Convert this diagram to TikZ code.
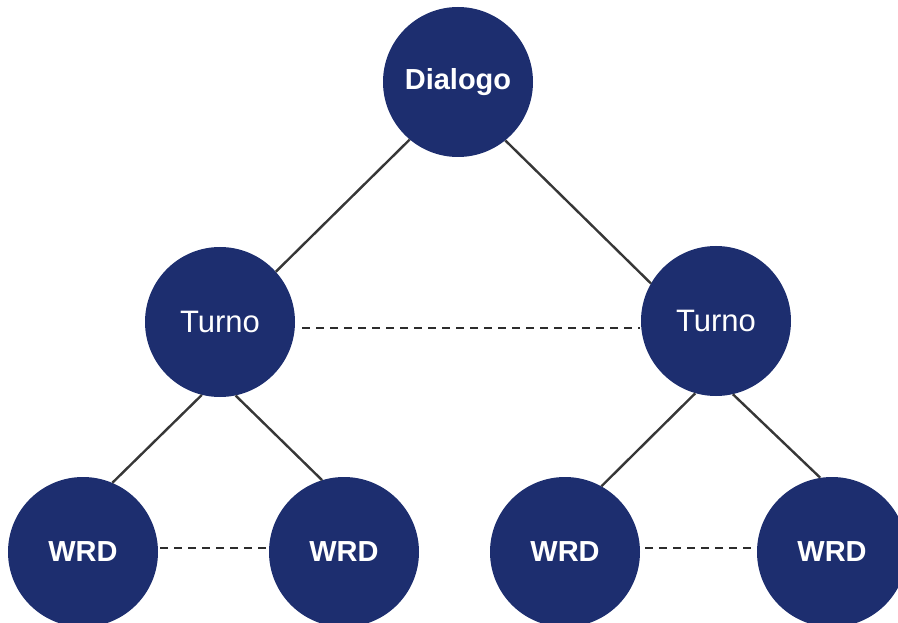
\documentclass[tikz,border=0pt]{standalone}
\usepackage{fontspec}
\setmainfont{Liberation Sans}
\definecolor{navy}{RGB}{29,46,111}
\definecolor{edgegray}{RGB}{55,55,55}
\begin{document}
\begin{tikzpicture}[x=1pt,y=-1pt,
  ball/.style={circle,fill=navy,draw=none,minimum size=150pt,inner sep=0pt,text=white,font=\fontsize{29}{34}\selectfont},
  tree/.style={draw=edgegray,line width=2.4pt},
  peer/.style={draw=edgegray!80!black,line width=1.4pt,dash pattern=on 8pt off 6pt}]
\useasboundingbox (0,0) rectangle (898,623);
\begin{scope}
\clip (0,0) rectangle (898,623);
\node[ball] (dia) at (458,82) {\bfseries Dialogo};
\node[ball,font=\fontsize{31}{36}\selectfont] (tl) at (220,322) {Turno};
\node[ball,font=\fontsize{31}{36}\selectfont] (tr) at (716,321) {Turno};
\node[ball] (w1) at (83,552) {\bfseries WRD};
\node[ball] (w2) at (344,552) {\bfseries WRD};
\node[ball] (w3) at (565,552) {\bfseries WRD};
\node[ball] (w4) at (832,552) {\bfseries WRD};
\end{scope}
\draw[tree] (dia.230) -- (tl.42);
\draw[tree] (dia.309) -- (tr.150);
\draw[tree] (tl.256) -- (w1.67);
\draw[tree] (tl.282) -- (w2.107);
\draw[tree] (tr.254) -- (w3.61);
\draw[tree] (tr.283) -- (w4.99);
\coordinate (tle) at ([xshift=7pt,yshift=-6pt]tl.east);
\coordinate (trw) at ([xshift=-1pt]tr.west);
\draw[peer] (tle) -- (tle -| trw);
\coordinate (w1e) at ([xshift=2pt,yshift=4pt]w1.east);
\coordinate (w2w) at ([xshift=-1pt,yshift=4pt]w2.west);
\draw[peer] (w1e) -- (w2w);
\coordinate (w3e) at ([xshift=5pt,yshift=4pt]w3.east);
\coordinate (w4w) at ([xshift=-1pt,yshift=4pt]w4.west);
\draw[peer] (w3e) -- (w4w);
\end{tikzpicture}
\end{document}
